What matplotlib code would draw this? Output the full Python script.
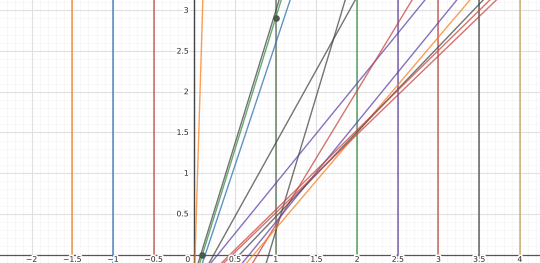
import matplotlib
matplotlib.use("Agg")
import matplotlib.pyplot as plt
import matplotlib.patheffects as pe
import numpy as np

# Desmos-ish palette
RED = "#c74440"
BLUE = "#2d70b3"
GREEN = "#388c46"
PURPLE = "#6042a6"
ORANGE = "#fa7e19"
BLACK = "#454545"

# vertical lines x = c
vert_x = [-1.5, -1.0, -0.5, 1.0, 2.0, 2.5, 3.0, 3.5, 4.0]
vert_colors = [ORANGE, BLUE, RED, "#4d6b45", GREEN, PURPLE, RED, BLACK, "#c9a04a"]

# slanted lines: x-intercept and slope
line_x0 = [0.01, 0.08, 0.10, 0.135, 0.24, 0.915, 0.289, 0.78, 0.676, 0.73, 0.557, 0.44, 0.47]
line_slope = [33.0, 3.25, 3.23, 3.0, 1.8, 3.33, 1.229, 1.65, 1.227, 1.177, 1.045, 0.98, 0.965]
line_colors = [ORANGE, BLACK, GREEN, BLUE, BLACK, BLACK, PURPLE, RED, PURPLE, ORANGE, BLACK, RED, RED]

# marked points
pt_x = [0.1, 1.0]
pt_y = [0.0, 2.91]

x_ticks = [-2, -1.5, -1, -0.5, 0.5, 1, 1.5, 2, 2.5, 3, 3.5, 4]
y_ticks = [0.5, 1, 1.5, 2, 2.5, 3]

fig = plt.figure(figsize=(5.4, 2.63), dpi=100)
ax = fig.add_axes([0, 0, 1, 1])
ax.set_xlim(-2.387, 4.247)
ax.set_ylim(-0.104, 3.127)
ax.set_axis_off()

# grid
for gx in np.arange(-2.3, 4.25, 0.1):
    ax.axvline(gx, color="#f6f6f6", lw=0.5, zorder=0)
for gy in np.arange(0.0, 3.13, 0.1):
    ax.axhline(gy, color="#f6f6f6", lw=0.5, zorder=0)
for gx in np.arange(-2.0, 4.25, 0.5):
    ax.axvline(gx, color="#e0e0e0", lw=0.8, zorder=0)
for gy in np.arange(0.5, 3.13, 0.5):
    ax.axhline(gy, color="#e0e0e0", lw=0.8, zorder=0)

# axes
ax.axhline(0, color="#555555", lw=0.9, zorder=1)
ax.axvline(0, color="#444444", lw=1.0, zorder=1)

for x, c in zip(vert_x, vert_colors):
    ax.axvline(x, color=c, lw=1.2, alpha=0.75, zorder=2)

for x0, s, c in zip(line_x0, line_slope, line_colors):
    ax.axline((x0, 0), slope=s, color=c, lw=1.0, alpha=0.75, zorder=3)

ax.scatter(pt_x, pt_y, s=14, color="#4a5a48", zorder=5)

halo = [pe.withStroke(linewidth=2.5, foreground="white")]
for t in x_ticks:
    lab = f"{t:g}".replace("-", "−")
    ax.text(t, -0.058, lab, ha="center", va="center", fontsize=5.5,
            color="#222222", path_effects=halo, zorder=6)
for t in y_ticks:
    ax.text(-0.07, t, f"{t:g}", ha="right", va="center", fontsize=5.5,
            color="#222222", path_effects=halo, zorder=6)
ax.text(-0.05, -0.06, "0", ha="right", va="center", fontsize=5.5,
        color="#222222", path_effects=halo, zorder=6)

fig.savefig("out.png", dpi=100)
